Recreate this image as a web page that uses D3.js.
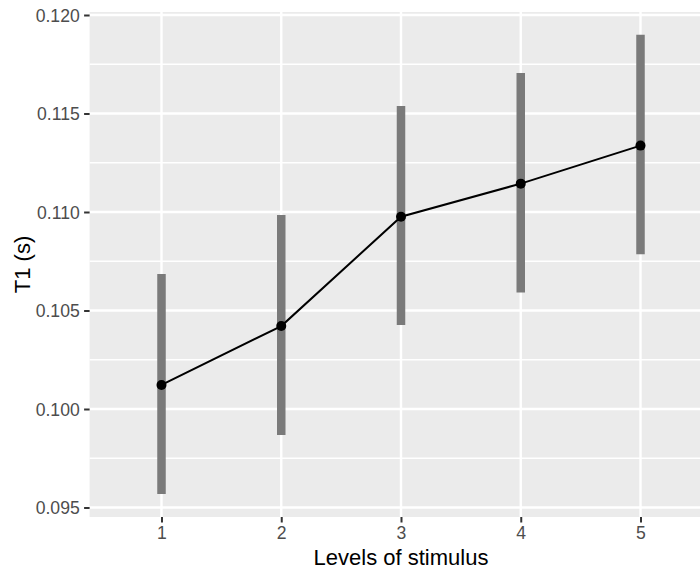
<!DOCTYPE html>
<html><head><meta charset="utf-8">
<script src="https://cdn.jsdelivr.net/npm/d3@7"></script>
<style>body{margin:0;background:#fff}svg{display:block}text{font-family:"Liberation Sans",Arial,sans-serif}</style>
</head><body><svg id="c" width="700" height="572"></svg>
<script>
const levels = ["1","2","3","4","5"];
const means = [0.10122, 0.10421, 0.10976, 0.11144, 0.11337];
const lower = [0.09569, 0.09868, 0.10426, 0.10592, 0.10785];
const upper = [0.10685, 0.10985, 0.11538, 0.11706, 0.11900];
const yTicks = [0.095, 0.100, 0.105, 0.110, 0.115, 0.120];
const yMinor = [0.0975, 0.1025, 0.1075, 0.1125, 0.1175];
const xTitle = "Levels of stimulus";
const yTitle = "T1 (s)";

const svg = d3.select("#c");
const P = {l: 89.6, r: 712, t: 12, b: 517};
const x = d3.scalePoint().domain(levels).range([161.5, 640.5]);
const y = d3.scaleLinear().domain([0.095, 0.120]).range([507.5, 15]);

svg.append("rect").attr("x", P.l).attr("y", P.t).attr("width", P.r - P.l).attr("height", P.b - P.t).attr("fill", "#ebebeb");
const g = svg.append("g");
g.selectAll(".mn").data(yMinor).join("line").attr("x1", P.l).attr("x2", P.r)
  .attr("y1", d => y(d)).attr("y2", d => y(d)).attr("stroke", "#fff").attr("stroke-width", 1.4);
g.selectAll(".mj").data(yTicks).join("line").attr("x1", P.l).attr("x2", P.r)
  .attr("y1", d => y(d)).attr("y2", d => y(d)).attr("stroke", "#fff").attr("stroke-width", 2.4);
g.selectAll(".mx").data(levels).join("line").attr("y1", P.t).attr("y2", P.b)
  .attr("x1", d => x(d)).attr("x2", d => x(d)).attr("stroke", "#fff").attr("stroke-width", 2.4);

// axes
const yAxis = svg.append("g").attr("transform", `translate(${P.l},0)`)
  .call(d3.axisLeft(y).tickValues(yTicks).tickFormat(d3.format(".3f")).tickSizeOuter(0).tickSize(5.5).tickPadding(4.4));
yAxis.select(".domain").remove();
yAxis.selectAll(".tick line").attr("stroke", "#333").attr("stroke-width", 2);
yAxis.selectAll(".tick text").attr("fill", "#4d4d4d").attr("font-size", 17.6).attr("dy", "0.35em");

const xAxis = svg.append("g").attr("transform", `translate(0,${P.b})`)
  .call(d3.axisBottom(x).tickSizeOuter(0).tickSize(5.5).tickPadding(4.4));
xAxis.select(".domain").remove();
xAxis.selectAll(".tick line").attr("stroke", "#333").attr("stroke-width", 2);
xAxis.selectAll(".tick text").attr("fill", "#4d4d4d").attr("font-size", 17.6).attr("dy", "0.71em");

// error bars
const data = levels.map((l, i) => ({l, m: means[i], lo: lower[i], hi: upper[i]}));
svg.selectAll(".eb").data(data).join("line")
  .attr("x1", d => x(d.l)).attr("x2", d => x(d.l))
  .attr("y1", d => y(d.lo)).attr("y2", d => y(d.hi))
  .attr("stroke", "#7a7a7a").attr("stroke-width", 8.5);
svg.append("path").datum(data)
  .attr("d", d3.line().x(d => x(d.l)).y(d => y(d.m)))
  .attr("fill", "none").attr("stroke", "#000").attr("stroke-width", 2);
svg.selectAll(".pt").data(data).join("circle")
  .attr("cx", d => x(d.l)).attr("cy", d => y(d.m)).attr("r", 5).attr("fill", "#000");

svg.append("text").attr("x", (161.5 + 640.5) / 2).attr("y", 565).attr("text-anchor", "middle")
  .attr("font-size", 22).attr("fill", "#000").text(xTitle);
svg.append("text").attr("transform", `translate(30,${(P.t + P.b) / 2}) rotate(-90)`).attr("text-anchor", "middle")
  .attr("font-size", 22).attr("fill", "#000").text(yTitle);
</script></body></html>
